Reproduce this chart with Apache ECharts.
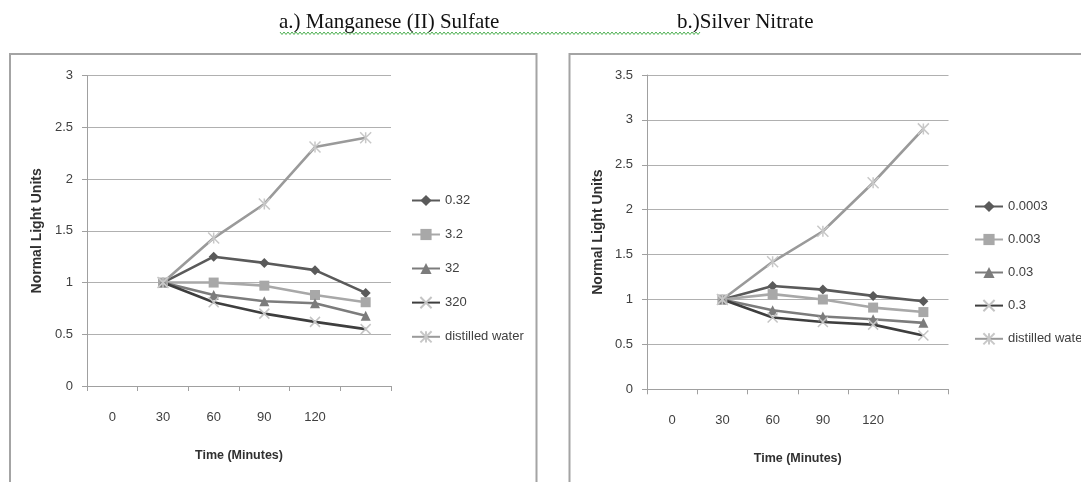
<!DOCTYPE html>
<html>
<head>
<meta charset="utf-8">
<script src="https://cdn.jsdelivr.net/npm/echarts@6/dist/echarts.min.js"></script>
<style>
html,body{margin:0;padding:0;background:#fff;}
#chart{width:1081px;height:482px;}
</style>
</head>
<body>
<div id="chart"></div>
<script>
// ---- data ----
var categories = ['0', '30', '60', '90', '120', ''];
var yTicksA = [0, 0.5, 1, 1.5, 2, 2.5, 3];
var yTicksB = [0, 0.5, 1, 1.5, 2, 2.5, 3, 3.5];

var namesA = ['0.32', '3.2', '32', '320', 'distilled water'];
var a032 = [null, 1, 1.25, 1.19, 1.12, 0.90];
var a32  = [null, 1, 1.00, 0.97, 0.88, 0.81];
var a320a = [null, 1, 0.88, 0.82, 0.80, 0.68];
var a3200 = [null, 1, 0.81, 0.70, 0.62, 0.55];
var aWater = [null, 1, 1.43, 1.76, 2.31, 2.40];

var namesB = ['0.0003', '0.003', '0.03', '0.3', 'distilled water'];
var b00003 = [null, 1, 1.15, 1.11, 1.04, 0.98];
var b0003  = [null, 1, 1.06, 1.00, 0.91, 0.86];
var b003   = [null, 1, 0.88, 0.81, 0.78, 0.74];
var b03    = [null, 1, 0.80, 0.75, 0.72, 0.60];
var bWater = [null, 1, 1.42, 1.76, 2.30, 2.90];

var titleA = 'a.) Manganese (II) Sulfate';
var titleB = 'b.)Silver Nitrate';
var yName = 'Normal Light Units';
var xName = 'Time (Minutes)';

// ---- styles ----
var styles = [
  {color: '#5a5a5a', symbol: 'diamond', size: 10, border: null},
  {color: '#a8a8a8', symbol: 'rect', size: 10, border: null},
  {color: '#7c7c7c', symbol: 'triangle', size: 10, border: null},
  {color: '#3e3e3e', symbol: 'path://M0 0L10 10M10 0L0 10', size: 10, border: '#c4c4c4'},
  {color: '#9a9a9a', symbol: 'path://M0 0L10 10M10 0L0 10M5 0L5 10', size: 11, border: '#c8c8c8'}
];

var tickFont = "'Liberation Sans', sans-serif";

function mkSeries(name, data, idx, st) {
  var s = {
    name: name, type: 'line', data: data,
    xAxisIndex: idx, yAxisIndex: idx,
    symbol: st.symbol, symbolSize: st.size, showAllSymbol: true,
    connectNulls: false,
    lineStyle: {color: st.color, width: 2.6},
    itemStyle: {color: st.color},
    emphasis: {disabled: true},
    animation: false,
    z: 3
  };
  if (st.border) {
    s.itemStyle = {color: st.color, borderColor: st.border, borderWidth: 1.5};
  }
  return s;
}

function mkX(idx) {
  return {
    type: 'category', gridIndex: idx, data: categories, boundaryGap: true,
    axisLine: {lineStyle: {color: '#a0a0a0', width: 1}},
    axisTick: {show: true, length: 5, interval: 0, lineStyle: {color: '#a0a0a0'}},
    axisLabel: {interval: 0, margin: 25, color: '#404040', fontSize: 13, fontFamily: tickFont},
    name: xName, nameLocation: 'middle', nameGap: 63,
    nameTextStyle: {color: '#303030', fontSize: 12.5, fontWeight: 'bold', fontFamily: tickFont}
  };
}

function mkY(idx, max, nameGap) {
  return {
    type: 'value', gridIndex: idx, min: 0, max: max, interval: 0.5,
    axisLine: {show: true, lineStyle: {color: '#a0a0a0', width: 1}},
    axisTick: {show: true, length: 5, lineStyle: {color: '#a0a0a0'}},
    splitLine: {show: true, lineStyle: {color: '#b0b0b0', width: 1}},
    axisLabel: {margin: 14, color: '#404040', fontSize: 13, fontFamily: tickFont,
      formatter: function (v) { return String(v); }},
    name: yName, nameLocation: 'middle', nameGap: nameGap,
    nameTextStyle: {color: '#303030', fontSize: 14, fontWeight: 'bold', fontFamily: tickFont}
  };
}

// wavy spell-check underline (decoration)
var wave = [];
for (var x = 280; x <= 700; x += 2) {
  wave.push([x, (Math.round((x - 280) / 2) % 2 === 0) ? 32 : 34.5]);
}

var seriesA = [a032, a32, a320a, a3200, aWater];
var seriesB = [b00003, b0003, b003, b03, bWater];
var series = [];
seriesA.forEach(function (d, i) { series.push(mkSeries(namesA[i], d, 0, styles[i])); });
seriesB.forEach(function (d, i) { series.push(mkSeries(namesB[i], d, 1, styles[i])); });

var legendText = {color: '#404040', fontSize: 13, fontFamily: tickFont};

var option = {
  backgroundColor: '#fff',
  animation: false,
  grid: [
    {left: 87, top: 75.7, width: 304, height: 310.3},
    {left: 647, top: 75, width: 301.5, height: 314.3}
  ],
  xAxis: [mkX(0), mkX(1)],
  yAxis: [mkY(0, 3, 43), mkY(1, 3.5, 42)],
  legend: [
    {data: namesA, orient: 'vertical', left: 406, top: 189, itemWidth: 28, itemHeight: 14,
     itemGap: 21, textStyle: legendText, selectedMode: false},
    {data: namesB, orient: 'vertical', left: 969, top: 195, itemWidth: 28, itemHeight: 14,
     itemGap: 20, textStyle: legendText, selectedMode: false}
  ],
  graphic: [
    {type: 'rect', shape: {x: 10, y: 54, width: 526.5, height: 440}, z: -10,
     style: {fill: '#fff', stroke: '#a4a4a4', lineWidth: 2}, silent: true},
    {type: 'rect', shape: {x: 569.5, y: 54, width: 540, height: 440}, z: -10,
     style: {fill: '#fff', stroke: '#a4a4a4', lineWidth: 2}, silent: true},
    {type: 'polyline', shape: {points: wave}, style: {stroke: '#4caf50', lineWidth: 1, fill: null}, silent: true},
    {type: 'text', left: 279, top: 12, style: {text: titleA, fill: '#111', font: "21px 'Liberation Serif', serif"}, silent: true},
    {type: 'text', left: 677, top: 12, style: {text: titleB, fill: '#111', font: "21px 'Liberation Serif', serif"}, silent: true}
  ],
  series: series
};

var chart = echarts.init(document.getElementById('chart'), null, {renderer: 'canvas'});
chart.setOption(option);
</script>
</body>
</html>
